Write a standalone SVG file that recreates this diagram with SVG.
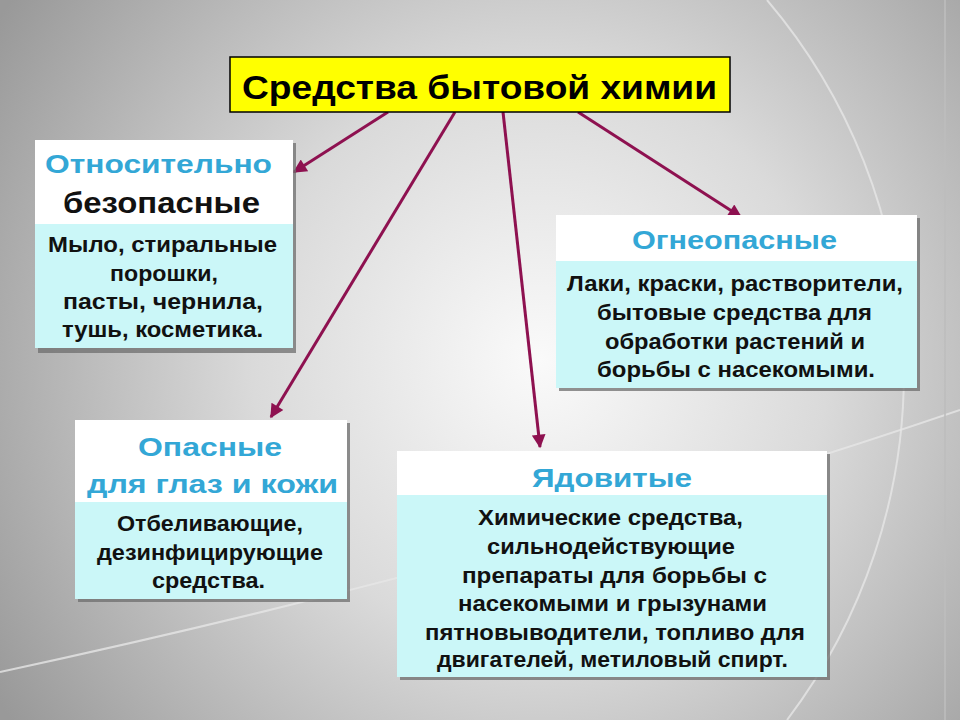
<svg xmlns="http://www.w3.org/2000/svg" width="960" height="720" viewBox="0 0 960 720">
<defs>
<radialGradient id="bg" gradientUnits="userSpaceOnUse" cx="540" cy="360" r="640">
<stop offset="0" stop-color="#fafafa"/>
<stop offset="0.45" stop-color="#dadada"/>
<stop offset="1" stop-color="#999999"/>
</radialGradient>
<marker id="ah" viewBox="0 0 10 10" refX="9" refY="5" markerWidth="5.5" markerHeight="4.6" orient="auto" markerUnits="strokeWidth">
<path d="M0,0 L10,5 L0,10 Z" fill="#8e1150"/>
</marker>
<style>
.t{font-family:"Liberation Sans",Arial,sans-serif;font-weight:bold}
.hd{fill:#33a7d6;font-size:26px}
.bd{fill:#111;font-size:21.5px}
.wh{fill:#ffffff}
.cy{fill:#cbf7f8}
.sh{fill:#6e6e6e;opacity:0.75}
.ar{stroke:#8e1150;stroke-width:3;fill:none;marker-end:url(#ah)}
.deco{stroke:#e6e6e6;stroke-width:2;fill:none;opacity:0.8}
</style>
</defs>
<rect width="960" height="720" fill="url(#bg)"/>
<g id="decor">
<path class="deco" d="M767,0 A575,575 0 0 1 787,720"/>
<path class="deco" d="M960,410 Q520,560 0,672"/>
<path class="deco" d="M945,0 L945,720" style="stroke:#bdbdbd"/>
</g>
<g id="connectors">
<line class="ar" x1="388" y1="112" x2="294" y2="172"/>
<line class="ar" x1="455" y1="112" x2="271" y2="417"/>
<line class="ar" x1="503" y1="112" x2="540" y2="447"/>
<line class="ar" x1="578" y1="112" x2="741" y2="217"/>
</g>
<g id="title">
<rect x="230" y="57" width="500" height="55" fill="#ffff00" stroke="#000" stroke-width="1.5"/>
<text class="t" x="242" y="99" font-size="34" fill="#000" textLength="475" lengthAdjust="spacingAndGlyphs">Средства бытовой химии</text>
</g>
<g id="node-safe">
<rect class="sh" x="38" y="143" width="258" height="210"/>
<rect class="wh" x="35" y="140" width="258" height="84"/>
<rect class="cy" x="35" y="224" width="258" height="124"/>
<text class="t hd" x="45" y="173" textLength="227" lengthAdjust="spacingAndGlyphs">Относительно</text>
<text class="t" x="63" y="213" font-size="29" fill="#111" textLength="197" lengthAdjust="spacingAndGlyphs">безопасные</text>
<text class="t bd" x="48" y="252" textLength="229" lengthAdjust="spacingAndGlyphs">Мыло, стиральные</text>
<text class="t bd" x="110" y="281" textLength="108" lengthAdjust="spacingAndGlyphs">порошки,</text>
<text class="t bd" x="63" y="309" textLength="200" lengthAdjust="spacingAndGlyphs">пасты, чернила,</text>
<text class="t bd" x="62" y="337" textLength="201" lengthAdjust="spacingAndGlyphs">тушь, косметика.</text>
</g>
<g id="node-fire">
<rect class="sh" x="559" y="218" width="361" height="173"/>
<rect class="wh" x="556" y="215" width="361" height="46"/>
<rect class="cy" x="556" y="261" width="361" height="127"/>
<text class="t hd" x="632" y="249" textLength="205" lengthAdjust="spacingAndGlyphs">Огнеопасные</text>
<text class="t bd" x="567" y="291" textLength="336" lengthAdjust="spacingAndGlyphs">Лаки, краски, растворители,</text>
<text class="t bd" x="597" y="320" textLength="275" lengthAdjust="spacingAndGlyphs">бытовые средства для</text>
<text class="t bd" x="605" y="349" textLength="260" lengthAdjust="spacingAndGlyphs">обработки растений и</text>
<text class="t bd" x="597" y="377" textLength="278" lengthAdjust="spacingAndGlyphs">борьбы с насекомыми.</text>
</g>
<g id="node-eyes">
<rect class="sh" x="78" y="423" width="272" height="179"/>
<rect class="wh" x="75" y="420" width="272" height="82"/>
<rect class="cy" x="75" y="502" width="272" height="97"/>
<text class="t hd" x="138" y="456" font-size="29" textLength="144" lengthAdjust="spacingAndGlyphs">Опасные</text>
<text class="t hd" x="87" y="493" font-size="29" textLength="251" lengthAdjust="spacingAndGlyphs">для глаз и кожи</text>
<text class="t bd" x="117" y="531" textLength="186" lengthAdjust="spacingAndGlyphs">Отбеливающие,</text>
<text class="t bd" x="97" y="560" textLength="226" lengthAdjust="spacingAndGlyphs">дезинфицирующие</text>
<text class="t bd" x="152" y="588" textLength="113" lengthAdjust="spacingAndGlyphs">средства.</text>
</g>
<g id="node-poison">
<rect class="sh" x="400" y="454" width="430" height="226"/>
<rect class="wh" x="397" y="451" width="430" height="44"/>
<rect class="cy" x="397" y="495" width="430" height="182"/>
<text class="t hd" x="532" y="487" font-size="28" textLength="160" lengthAdjust="spacingAndGlyphs">Ядовитые</text>
<text class="t bd" x="478" y="525" textLength="265" lengthAdjust="spacingAndGlyphs">Химические средства,</text>
<text class="t bd" x="487" y="554" textLength="248" lengthAdjust="spacingAndGlyphs">сильнодействующие</text>
<text class="t bd" x="462" y="583" textLength="305" lengthAdjust="spacingAndGlyphs">препараты для борьбы с</text>
<text class="t bd" x="458" y="611" textLength="309" lengthAdjust="spacingAndGlyphs">насекомыми и грызунами</text>
<text class="t bd" x="425" y="640" textLength="380" lengthAdjust="spacingAndGlyphs">пятновыводители, топливо для</text>
<text class="t bd" x="437" y="667" textLength="351" lengthAdjust="spacingAndGlyphs">двигателей, метиловый спирт.</text>
</g>
</svg>
